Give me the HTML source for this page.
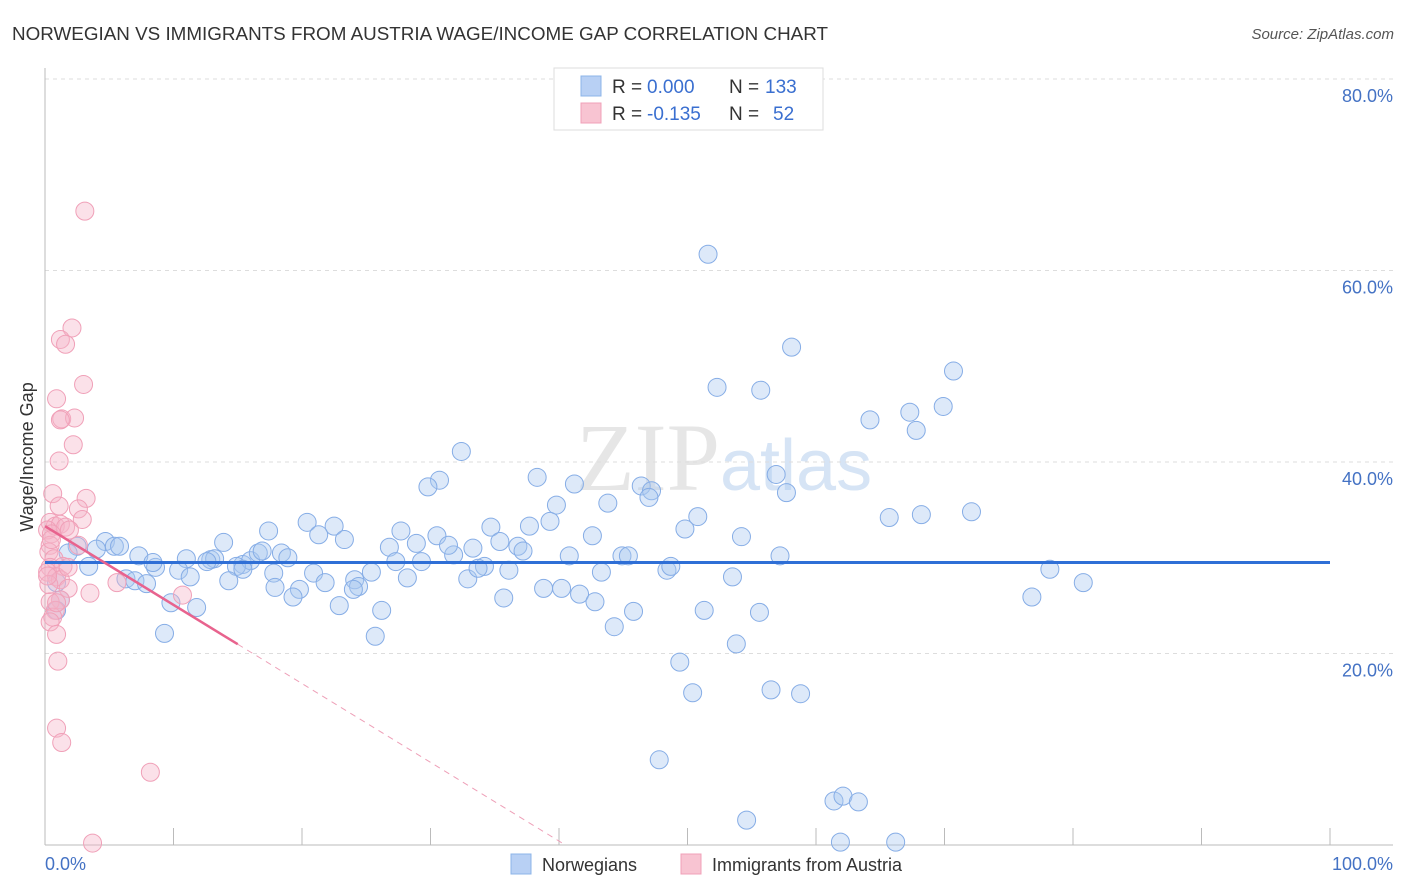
<!DOCTYPE html>
<html><head><meta charset="utf-8"><style>
body{margin:0;background:#fff;font-family:"Liberation Sans",sans-serif}
svg{display:block}
</style></head><body>
<svg id="c" width="1406" height="892">
<text x="12" y="40" font-size="18" fill="#333" textLength="816" lengthAdjust="spacingAndGlyphs">NORWEGIAN VS IMMIGRANTS FROM AUSTRIA WAGE/INCOME GAP CORRELATION CHART</text>
<text x="1394" y="39" font-size="15" fill="#555" text-anchor="end" font-style="italic">Source: ZipAtlas.com</text>
<text x="720" y="490" font-size="96" fill="#e6e6e6" text-anchor="end" font-family="Liberation Serif">ZIP</text>
<text x="720" y="490" font-size="72" fill="#d6e4f5">atlas</text>
<g id="grid"></g><g id="pts"></g><g id="lines"></g>
<text transform="translate(33,457) rotate(-90)" font-size="18" fill="#333" text-anchor="middle">Wage/Income Gap</text>
<text x="45" y="870" font-size="18" fill="#4472c4">0.0%</text>
<text x="1393" y="870" font-size="18" fill="#4472c4" text-anchor="end">100.0%</text>
<g>
<rect x="554" y="68" width="269" height="62" fill="#fff" stroke="#ddd"/>
<rect x="581" y="76" width="20" height="20" fill="#b8d0f4" stroke="#8cb4e8"/>
<rect x="581" y="103" width="20" height="20" fill="#f8c4d2" stroke="#f0a0b8"/>
<text x="612" y="93" font-size="19" fill="#333">R =</text>
<text x="647" y="93" font-size="19" fill="#3a6fd0">0.000</text>
<text x="729" y="93" font-size="19" fill="#333">N =</text>
<text x="765" y="93" font-size="19" fill="#3a6fd0">133</text>
<text x="612" y="120" font-size="19" fill="#333">R =</text>
<text x="647" y="120" font-size="19" fill="#3a6fd0">-0.135</text>
<text x="729" y="120" font-size="19" fill="#333">N =</text>
<text x="773" y="120" font-size="19" fill="#3a6fd0">52</text>
</g>
<g>
<rect x="511" y="854" width="20" height="20" fill="#b8d0f4" stroke="#8cb4e8"/>
<text x="542" y="871" font-size="18" fill="#333">Norwegians</text>
<rect x="681" y="854" width="20" height="20" fill="#f8c4d2" stroke="#f0a0b8"/>
<text x="712" y="871" font-size="18" fill="#333">Immigrants from Austria</text>
</g>
</svg>
<script>
const yTicks=[20,40,60,80];
const yTickLabels=["20.0%","40.0%","60.0%","80.0%"];
const xTicks=[0,10,20,30,40,50,60,70,80,90,100];
const bluePx=[[708,254],[792,347],[954,371],[717,387],[761,390],[943,406],[910,412],[870,420],[916,430],[461,451],[440,480],[428,487],[537,477],[575,484],[641,486],[652,491],[649,497],[776,474],[786,493],[557,505],[608,503],[550,521],[698,517],[685,529],[889,518],[921,515],[972,512],[307,522],[334,526],[268,531],[319,535],[345,540],[223,542],[401,531],[437,536],[491,527],[529,526],[500,541],[518,546],[523,551],[473,548],[454,555],[389,547],[416,543],[448,545],[592,536],[741,537],[780,556],[569,556],[622,556],[629,556],[105,541],[115,546],[120,546],[97,549],[77,546],[68,553],[139,556],[89,566],[186,559],[211,560],[215,559],[243,564],[250,561],[258,553],[262,551],[282,553],[288,558],[207,562],[236,566],[243,569],[156,567],[153,563],[179,570],[190,577],[229,581],[274,573],[313,573],[275,587],[300,589],[293,597],[325,583],[355,580],[358,586],[353,589],[371,572],[408,578],[396,562],[421,562],[468,579],[484,566],[478,568],[509,570],[544,588],[562,588],[601,572],[667,570],[671,566],[732,577],[126,579],[135,581],[146,584],[171,603],[197,608],[339,606],[382,610],[504,598],[580,594],[595,602],[634,611],[704,610],[760,612],[614,627],[375,636],[165,633],[736,644],[680,662],[692,693],[771,690],[800,694],[659,760],[747,820],[834,801],[843,796],[859,802],[840,842],[896,842],[1032,597],[1050,569],[1083,583],[60,600],[56,583],[57,610]];
const pinkPx=[[85,211],[72,328],[61,339],[65,344],[84,384],[57,399],[62,419],[74,418],[61,420],[73,445],[59,461],[53,494],[86,498],[59,506],[79,509],[82,519],[50,522],[55,526],[60,524],[65,527],[48,530],[70,530],[52,534],[50,545],[49,552],[78,545],[54,559],[50,567],[63,566],[47,572],[57,577],[60,580],[68,588],[90,593],[117,583],[183,595],[61,600],[50,602],[55,610],[53,617],[50,622],[57,634],[58,661],[57,728],[62,743],[150,772],[92,843],[68,567],[49,585],[56,603],[48,576],[52,540]];
// data values (x %, y %)
const blueX=bluePx.map(p=>+((p[0]-45)/12.85).toFixed(1));
const blueY=bluePx.map(p=>+((845-p[1])/9.575).toFixed(1));
const pinkX=pinkPx.map(p=>+((p[0]-45)/12.85).toFixed(1));
const pinkY=pinkPx.map(p=>+((845-p[1])/9.575).toFixed(1));
const blueTrend=[29.5,29.5];
const pinkTrend=[33.3,0];
const pinkTrendX=[0,40.5];
const X=v=>45+v*12.85, Y=v=>845-v*9.575;
const NS="http://www.w3.org/2000/svg";
function mk(t,a,p){const e=document.createElementNS(NS,t);for(const k in a)e.setAttribute(k,a[k]);p.appendChild(e);return e;}
const g=document.getElementById('grid');
yTicks.forEach((t,i)=>{
 const l=mk('line',{x1:45,x2:1393,y1:Y(t),y2:Y(t),stroke:'#ddd','stroke-dasharray':'4,4'},g);
 
 
 const tx=mk('text',{x:1393,y:Y(t)+23,'font-size':18,fill:'#4472c4','text-anchor':'end'},g);
 tx.textContent=yTickLabels[i];
 
 
});
const ax=mk('line',{x1:45,x2:1393,y1:845,y2:845,stroke:'#bbb'},g);


const ay=mk('line',{x1:45,x2:45,y1:68,y2:845,stroke:'#bbb'},g);


xTicks.forEach(t=>{
 const l=mk('line',{x1:X(t),x2:X(t),y1:828,y2:845,stroke:'#bbb'},g);
 
 
});
const pg=document.getElementById('pts');
blueX.forEach((x,i)=>{
 const c=mk('circle',{cx:X(x),cy:Y(blueY[i]),r:9,fill:'rgba(170,200,240,0.4)',stroke:'#86ade6','stroke-width':1},pg);
 
 
});
pinkX.forEach((x,i)=>{
 const c=mk('circle',{cx:X(x),cy:Y(pinkY[i]),r:9,fill:'rgba(246,180,200,0.4)',stroke:'#f0a0b8','stroke-width':1},pg);
 
 
});
const lg=document.getElementById('lines');
const bl=mk('line',{x1:X(0),x2:X(100),y1:Y(blueTrend[0]),y2:Y(blueTrend[1]),stroke:'#2f6fd6','stroke-width':3},lg);


const slope=(pinkTrend[1]-pinkTrend[0])/(pinkTrendX[1]-pinkTrendX[0]);
const ys=pinkTrend[0]+slope*15;
const p1=mk('line',{x1:X(pinkTrendX[0]),y1:Y(pinkTrend[0]),x2:X(15),y2:Y(ys),stroke:'#e8638e','stroke-width':2.5},lg);


const p2=mk('line',{x1:X(15),y1:Y(ys),x2:X(pinkTrendX[1]),y2:Y(pinkTrend[1]),stroke:'#eea0b8','stroke-width':1,'stroke-dasharray':'6,5'},lg);


</script>
</body></html>
